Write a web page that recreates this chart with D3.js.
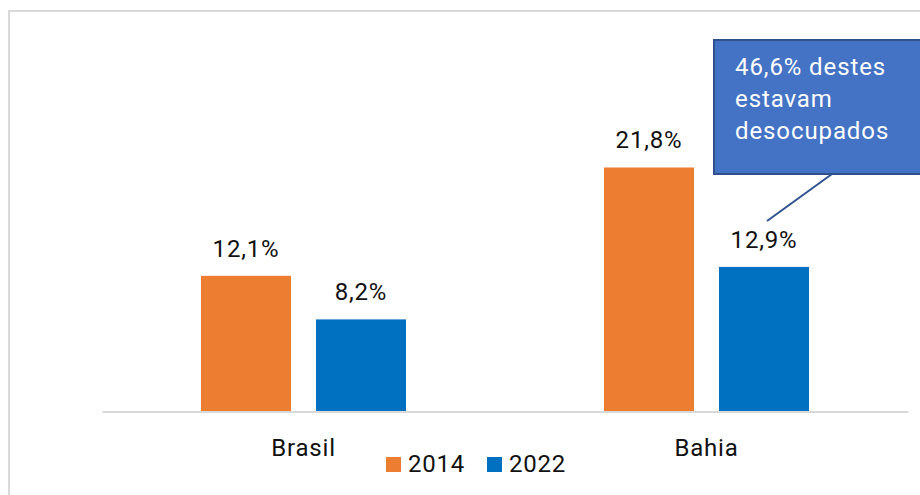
<!DOCTYPE html>
<html>
<head>
<meta charset="utf-8">
<script src="https://cdn.jsdelivr.net/npm/d3@7"></script>
<style>
  body { margin: 0; background: #fff; }
  svg { font-family: Roboto, "Noto Sans", sans-serif; }
</style>
</head>
<body>
<svg width="920" height="495"></svg>
<script>
const categories = ["Brasil", "Bahia"];
const years = ["2014", "2022"];
const values2014 = [12.1, 21.8];
const values2022 = [8.2, 12.9];
const calloutLines = ["46,6% destes", "estavam", "desocupados"];

const colors = { "2014": "#ED7D31", "2022": "#0070C0" };
const svg = d3.select("svg");
const fmt = v => d3.format(".1f")(v).replace(".", ",") + "%";

// frame
svg.append("rect")
   .attr("x", 9).attr("y", 11)
   .attr("width", 930).attr("height", 500)
   .attr("fill", "none").attr("stroke", "#D9D9D9").attr("stroke-width", 2);

const base = 411;
const x = d3.scaleBand().domain(categories).range([102, 908]);
const xInner = d3.scaleBand().domain(years).range([0, 205]).paddingInner(25 / 115);
const y = d3.scaleLinear().domain([0, 25]).range([base, base - 25 * 11.17]);

const rows = [];
categories.forEach((c, i) => {
  rows.push({ cat: c, year: "2014", v: values2014[i] });
  rows.push({ cat: c, year: "2022", v: values2022[i] });
});
const bx = d => x(d.cat) + (x.bandwidth() - 205) / 2 + xInner(d.year);

//BARS
svg.selectAll(".bar").data(rows).enter().append("rect")
   .attr("class", "bar")
   .attr("x", bx)
   .attr("y", d => y(d.v))
   .attr("width", xInner.bandwidth())
   .attr("height", d => base - y(d.v))
   .attr("fill", d => colors[d.year]);

//LABELS
svg.selectAll(".lbl").data(rows).enter().append("text")
   .attr("x", d => bx(d) + xInner.bandwidth() / 2)
   .attr("y", d => y(d.v) - 19)
   .attr("text-anchor", "middle")
   .attr("font-size", "24px")
   .attr("letter-spacing", "0.8px")
   .attr("fill", "#111")
   .text(d => fmt(d.v));

//AXIS
const axis = svg.append("g").attr("transform", "translate(0," + (base + 0.5) + ")")
   .call(d3.axisBottom(x).tickSize(0).tickPadding(27));
axis.select(".domain").attr("stroke", "#D9D9D9").attr("stroke-width", 2);
axis.selectAll("text").attr("font-size", "24px").attr("fill", "#111")
   .attr("letter-spacing", "0.8px")
   .attr("font-family", "Roboto, sans-serif");

//LEGEND
const leg = svg.append("g").attr("transform", "translate(386,472)");
const legX = [0, 101];
years.forEach((yr, i) => {
  leg.append("rect").attr("x", legX[i]).attr("y", -15)
     .attr("width", 15).attr("height", 15).attr("fill", colors[yr]);
  leg.append("text").attr("x", legX[i] + 22).attr("y", 0)
     .attr("font-size", "24px").attr("letter-spacing", "0.8px")
     .attr("fill", "#111").text(yr);
});

//CALLOUT
svg.append("line")
   .attr("x1", 832).attr("y1", 174).attr("x2", 767).attr("y2", 221)
   .attr("stroke", "#2F528F").attr("stroke-width", 2);
svg.append("rect")
   .attr("x", 714).attr("y", 40).attr("width", 230).attr("height", 134)
   .attr("fill", "#4472C4").attr("stroke", "#2F528F").attr("stroke-width", 2);
svg.append("text")
   .attr("font-size", "24px").attr("letter-spacing", "0.9px").attr("fill", "#fff")
   .selectAll("tspan").data(calloutLines).enter().append("tspan")
   .attr("x", 735).attr("y", (d, i) => 75 + i * 32)
   .text(d => d);
</script>
</body>
</html>
